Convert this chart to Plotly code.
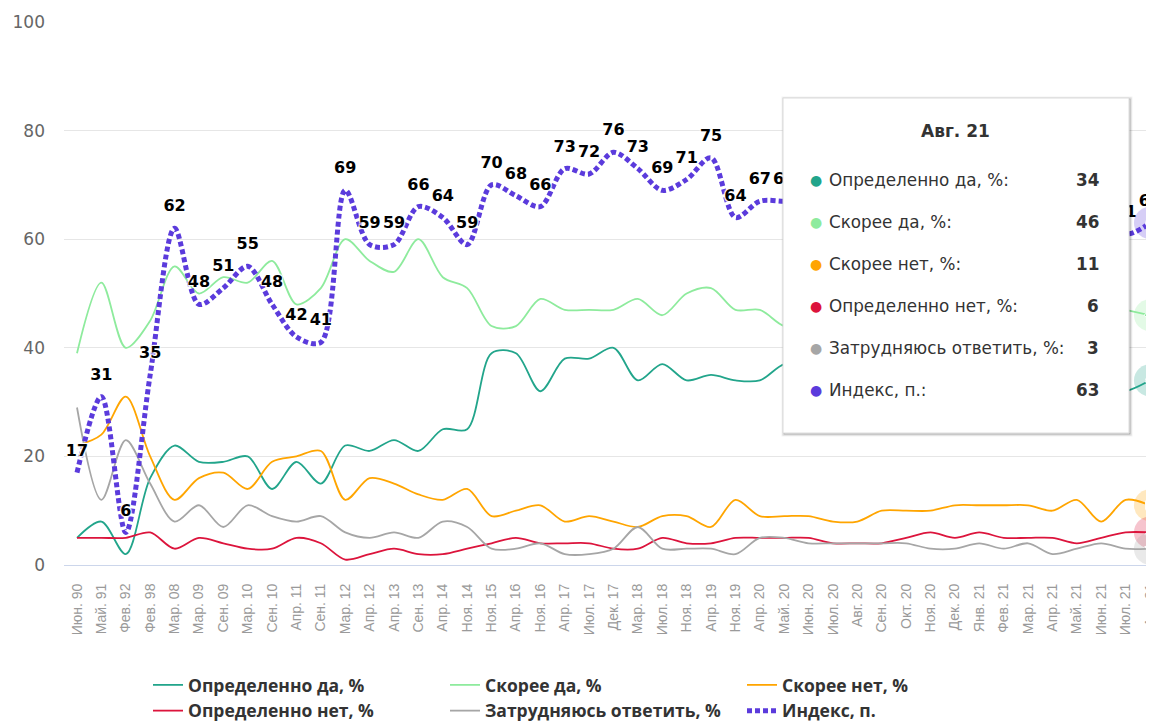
import plotly.graph_objects as go

categories = ["Июн. 90", "Май. 91", "Фев. 92", "Фев. 98", "Мар. 08", "Мар. 09", "Сен. 09", "Мар. 10",
              "Сен. 10", "Апр. 11", "Сен. 11", "Мар. 12", "Апр. 12", "Апр. 13", "Сен. 13", "Апр. 14",
              "Ноя. 14", "Ноя. 15", "Апр. 16", "Ноя. 16", "Апр. 17", "Июл. 17", "Дек. 17", "Мар. 18",
              "Июл. 18", "Ноя. 18", "Апр. 19", "Ноя. 19", "Апр. 20", "Май. 20", "Июн. 20", "Июл. 20",
              "Авг. 20", "Сен. 20", "Окт. 20", "Ноя. 20", "Дек. 20", "Янв. 21", "Фев. 21", "Мар. 21",
              "Апр. 21", "Май. 21", "Июн. 21", "Июл. 21", "Авг. 21"]

def_yes = [5, 8, 2, 16, 22, 19, 19, 20, 14, 19, 15, 22, 21, 23, 21, 25, 25, 39, 39, 32,
           38, 38, 40, 34, 37, 34, 35, 34, 34, 37, 37, 36, 36, 35, 35, 34, 35, 34, 34, 33,
           33, 33, 32, 32, 34]
rather_yes = [39, 52, 40, 45, 55, 50, 53, 52, 56, 48, 51, 60, 56, 54, 60, 53, 51, 44, 44, 49,
              47, 47, 47, 49, 46, 50, 51, 47, 47, 44, 44, 45, 45, 46, 46, 47, 46, 47, 47, 48,
              48, 47, 48, 47, 46]
rather_no = [22, 24, 31, 20, 12, 16, 17, 14, 19, 20, 21, 12, 16, 15, 13, 12, 14, 9, 10, 11,
             8, 9, 8, 7, 9, 9, 7, 12, 9, 9, 9, 8, 8, 10, 10, 10, 11, 11, 11, 11,
             10, 12, 8, 12, 11]
def_no = [5, 5, 5, 6, 3, 5, 4, 3, 3, 5, 4, 1, 2, 3, 2, 2, 3, 4, 5, 4,
          4, 4, 3, 3, 5, 4, 4, 5, 5, 5, 5, 4, 4, 4, 5, 6, 5, 6, 5, 5,
          5, 4, 5, 6, 6]
hard_say = [29, 12, 23, 15, 8, 11, 7, 11, 9, 8, 9, 6, 5, 6, 5, 8, 7, 3, 3, 4,
            2, 2, 3, 7, 3, 3, 3, 2, 5, 5, 4, 4, 4, 4, 4, 3, 3, 4, 3, 4,
            2, 3, 4, 3, 3]
index_vals = [17, 31, 6, 35, 62, 48, 51, 55, 48, 42, 41, 69, 59, 59, 66, 64, 59, 70, 68, 66,
              73, 72, 76, 73, 69, 71, 75, 64, 67, 67, 67, 69, 69, 67, 66, 65, 65, 64, 65, 65,
              66, 64, 67, 61, 63]

series_names = ["Определенно да, %", "Скорее да, %", "Скорее нет, %",
                "Определенно нет, %", "Затрудняюсь ответить, %", "Индекс, п."]
series_colors = ["#22a58b", "#8eeb9d", "#ffa500", "#dc143c", "#a6a6a6", "#5b3bdc"]
hover_symbols = ["circle", "diamond", "square", "triangle-up", "triangle-down", "circle"]

series_vals = [def_yes, rather_yes, rather_no, def_no, hard_say, index_vals]
x = list(range(len(categories)))

fig = go.Figure()

for i, (name, vals, col) in enumerate(zip(series_names, series_vals, series_colors)):
    if i < 5:
        fig.add_trace(go.Scatter(
            x=x, y=vals, name=name, mode="lines",
            line=dict(color=col, width=1.8, shape="spline", smoothing=0.9),
            hoverinfo="skip"))
    else:
        fig.add_trace(go.Scatter(
            x=x, y=vals, name=name, mode="lines",
            line=dict(color=col, width=5, shape="spline", smoothing=0.9, dash="5px,3px"),
            hoverinfo="skip"))

# data labels of the index
fig.add_trace(go.Scatter(
    x=x, y=index_vals, mode="markers+text", text=[str(v) for v in index_vals],
    textposition="top center", cliponaxis=False,
    marker=dict(size=19, opacity=0),
    textfont=dict(family="DejaVu Sans", size=16, color="#000000", weight="bold",
                  shadow="1px 1px 1px #fff, -1px -1px 1px #fff, 1px -1px 1px #fff, -1px 1px 1px #fff"),
    showlegend=False, hoverinfo="skip"))

# hover state at last point: halos + markers
last = len(categories) - 1
for vals, col, sym in zip(series_vals, series_colors, hover_symbols):
    fig.add_trace(go.Scatter(
        x=[x[last]], y=[vals[last]], mode="markers",
        marker=dict(size=32, color=col, opacity=0.25, line=dict(width=0)),
        showlegend=False, hoverinfo="skip"))
    fig.add_trace(go.Scatter(
        x=[x[last]], y=[vals[last]], mode="markers",
        marker=dict(size=9, color=col, symbol=sym, line=dict(width=1, color="#ffffff")),
        showlegend=False, hoverinfo="skip"))

# the page body has an 8px margin: figure coordinates = page coordinates - 8
OFF = 8
W, H = 1154 - OFF, 722 - OFF
L, R, T, B = 64 - OFF, 1154 - OFF, 22 - OFF, 565 - OFF


def px_x(px):
    return (px - OFF - L) / (R - L)


def px_y(py):
    return (B - (py - OFF)) / (B - T)


shapes = []
tx0, tx1, ty0, ty1 = 783, 1129, 98, 433
for w, op in [(5, 0.05), (3, 0.1), (1, 0.15)]:
    shapes.append(dict(type="rect", xref="paper", yref="paper", layer="above",
                       x0=px_x(tx0 + 1), x1=px_x(tx1 + 1), y0=px_y(ty1 + 1), y1=px_y(ty0 + 1),
                       line=dict(color=f"rgba(0,0,0,{op})", width=w), fillcolor="rgba(0,0,0,0)"))
shapes.append(dict(type="rect", xref="paper", yref="paper", layer="above",
                   x0=px_x(tx0), x1=px_x(tx1), y0=px_y(ty1), y1=px_y(ty0),
                   line=dict(color="#dcdcdc", width=1), fillcolor="#ffffff"))

annotations = [dict(xref="paper", yref="paper", x=px_x(955), y=px_y(131), text="<b>" + categories[last] + "</b>",
                    showarrow=False, xanchor="center", yanchor="middle",
                    font=dict(family="DejaVu Sans", size=17, color="#333333"))]
row_y = [180, 222, 264, 306, 348, 390]
for name, vals, col, ry in zip(series_names, series_vals, series_colors, row_y):
    annotations.append(dict(xref="paper", yref="paper", x=px_x(816), y=px_y(ry), text="●",
                            showarrow=False, xanchor="center", yanchor="middle",
                            font=dict(family="DejaVu Sans", size=14, color=col)))
    annotations.append(dict(xref="paper", yref="paper", x=px_x(827), y=px_y(ry), text=name + ":",
                            showarrow=False, xanchor="left", yanchor="middle",
                            font=dict(family="DejaVu Sans", size=16.8, color="#333333")))
    annotations.append(dict(xref="paper", yref="paper", x=px_x(1101), y=px_y(ry),
                            text="<b>" + str(vals[last]) + "</b>",
                            showarrow=False, xanchor="right", yanchor="middle",
                            font=dict(family="DejaVu Sans", size=16.8, color="#333333")))

fig.update_layout(
    width=W, height=H,
    margin=dict(l=L, r=0, t=T, b=H - B),
    paper_bgcolor="#ffffff", plot_bgcolor="#ffffff",
    hovermode=False,
    showlegend=True,
    legend=dict(orientation="h", xref="container", yref="container",
                x=140 / W, y=1 - 659 / H, xanchor="left", yanchor="top",
                entrywidth=252, entrywidthmode="pixels", tracegroupgap=0,
                font=dict(family="Open Sans", size=17.5, color="#333333", weight="bold"),
                bgcolor="rgba(0,0,0,0)"),
    xaxis=dict(range=[-0.533, 44.165], tickmode="array", tickvals=x, ticktext=categories,
               tickangle=-90, showgrid=False, zeroline=False, showline=True,
               linecolor="#ccd6eb", linewidth=1, ticks="", ticklabelstandoff=12,
               ticklabeloverflow="allow", automargin=False,
               tickfont=dict(family="Arial, Liberation Sans", size=14, color="#9a9a9a")),
    yaxis=dict(range=[0, 100], dtick=20, showgrid=True, gridcolor="#e6e6e6", gridwidth=1,
               zeroline=False, showline=False, ticks="", ticklabelstandoff=18, automargin=False,
               tickfont=dict(family="DejaVu Sans", size=17, color="#666666")),
    shapes=shapes,
    annotations=annotations,
)

fig.write_html("out.html")
